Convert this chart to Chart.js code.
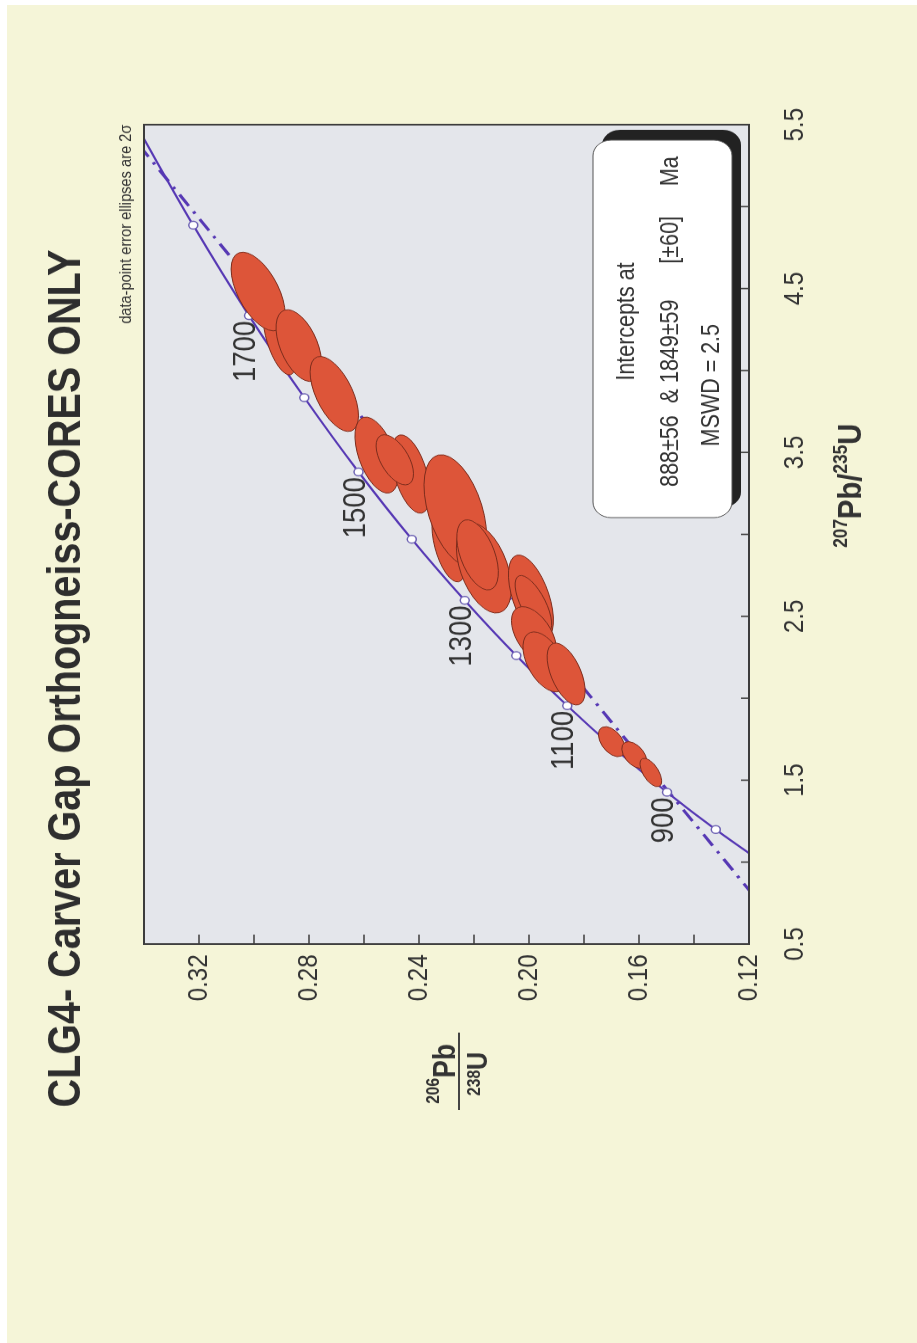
<!DOCTYPE html>
<html>
<head>
<meta charset="utf-8">
<title>CLG4 Concordia</title>
<script src="https://cdn.jsdelivr.net/npm/chart.js@4/dist/chart.umd.min.js"></script>
<style>
  html, body { margin: 0; padding: 0; background: #ffffff; }
  body { width: 917px; height: 1343px; overflow: hidden; position: relative; }
  #paper { position: absolute; left: 7px; top: 5px; right: 0; bottom: 0; background: #f5f5d8; }
  /* the figure is laid out landscape and turned a quarter turn counter-clockwise */
  #wrap { position: absolute; left: 0; top: 0; width: 1562px; height: 917px;
          transform-origin: 0 0; transform: translate(0px, 1343px) rotate(-90deg) scaleX(0.85979); }
  canvas { display: block; }
</style>
</head>
<body>
<div id="paper"></div>
<div id="wrap"><canvas id="chart" width="1562" height="917"></canvas></div>
<script>
// Concordia curve (age in Ma, 207Pb/235U, 206Pb/238U)
const concordiaAges = [700, 800, 900, 1000, 1100, 1200, 1300, 1400, 1500, 1600, 1700, 1800, 1900];
const concordiaX = [0.9925, 1.1987, 1.4263, 1.6774, 1.9545, 2.2603, 2.5977, 2.9701, 3.3810, 3.8344, 4.3348, 4.8868, 5.4962];
const concordiaY = [0.1147, 0.1321, 0.1498, 0.1678, 0.1861, 0.2046, 0.2234, 0.2426, 0.2620, 0.2817, 0.3018, 0.3221, 0.3428];
const markerAges = [800, 900, 1000, 1100, 1200, 1300, 1400, 1500, 1600, 1700, 1800];
const labelAges = [900, 1100, 1300, 1500, 1700];

// Discordia through the 888 Ma and 1849 Ma intercepts, across the plot
const discordiaX = [0.5, 5.5];
const discordiaY = [0.1039, 0.3479];

// Analyses: centre, 2-sigma errors and error correlation
const ellX   = [4.187, 4.482, 4.152, 3.857, 3.484, 3.368, 3.455, 2.936, 3.145, 2.795, 2.875, 2.615, 2.573, 2.386, 2.222, 2.148, 1.735, 1.654, 1.547];
const ellY   = [0.2907, 0.2985, 0.2837, 0.2708, 0.2554, 0.2430, 0.2488, 0.2291, 0.2268, 0.2164, 0.2187, 0.1993, 0.1984, 0.1982, 0.1942, 0.1865, 0.1699, 0.1617, 0.1557];
const ellSX  = [0.214, 0.240, 0.219, 0.229, 0.232, 0.239, 0.153, 0.226, 0.341, 0.275, 0.214, 0.259, 0.176, 0.173, 0.183, 0.189, 0.0916, 0.0812, 0.0867];
const ellSY  = [0.00593, 0.00982, 0.00829, 0.0088, 0.00789, 0.00698, 0.0068, 0.00618, 0.01138, 0.0100, 0.00756, 0.00818, 0.00665, 0.00818, 0.0080, 0.00691, 0.00484, 0.00455, 0.00393];
const ellRho = [0.60, 0.57, 0.50, 0.58, 0.50, 0.50, 0.56, 0.50, 0.45, 0.45, 0.50, 0.54, 0.68, 0.50, 0.50, 0.55, 0.47, 0.48, 0.60];

// Axis ticks
const xTickMin = 0.5, xTickMax = 5.5, xStep = 0.5;
const yTickMin = 0.12, yTickMax = 0.34, yStep = 0.02;

const titleText = 'CLG4- Carver Gap Orthogneiss-CORES ONLY';
const noteText = 'data-point error ellipses are 2\u03c3';
const boxLines = ['Intercepts at', '888\u00b156  & 1849\u00b159      [\u00b160]     Ma', 'MSWD = 2.5'];

const FONT = "'Liberation Sans', Arial, Helvetica, sans-serif";
const LINE_COLOR = '#5638b4';
const INK = '#333333';

const concordiaPts = concordiaAges.map((a, i) => ({ x: concordiaX[i], y: concordiaY[i] }));
const markerPts = markerAges.map(a => { const i = concordiaAges.indexOf(a); return { x: concordiaX[i], y: concordiaY[i] }; });
const discordiaPts = discordiaX.map((x, i) => ({ x, y: discordiaY[i] }));

function drawRich(ctx, parts, x, y, align) {
  let total = 0;
  parts.forEach(p => { ctx.font = p.font; total += ctx.measureText(p.t).width; });
  let cx = align === 'center' ? x - total / 2 : x;
  ctx.textAlign = 'left';
  ctx.textBaseline = 'alphabetic';
  parts.forEach(p => {
    ctx.font = p.font;
    ctx.fillText(p.t, cx, y + (p.dy || 0));
    cx += ctx.measureText(p.t).width;
  });
}

const plotBackground = {
  id: 'plotBackground',
  beforeDraw(chart) {
    const { ctx, chartArea: a } = chart;
    ctx.save();
    ctx.fillStyle = '#e4e6eb';
    ctx.fillRect(a.left, a.top, a.right - a.left, a.bottom - a.top);
    ctx.restore();
  }
};

const errorEllipses = {
  id: 'errorEllipses',
  afterDatasetsDraw(chart) {
    const { ctx, chartArea: a, scales: { x: xs, y: ys } } = chart;
    ctx.save();
    ctx.beginPath();
    ctx.rect(a.left, a.top, a.right - a.left, a.bottom - a.top);
    ctx.clip();
    ellX.forEach((cx, i) => {
      const px = xs.getPixelForValue(cx), py = ys.getPixelForValue(ellY[i]);
      const kx = xs.getPixelForValue(cx + 1) - px;
      const ky = ys.getPixelForValue(ellY[i] + 1) - py;
      const sxp = ellSX[i] * kx, syp = ellSY[i] * ky;
      const A = sxp * sxp, C = syp * syp, B = ellRho[i] * sxp * syp;
      const mid = (A + C) / 2, d = Math.sqrt((A - C) * (A - C) / 4 + B * B);
      const r1 = Math.sqrt(mid + d), r2 = Math.sqrt(Math.max(mid - d, 0.01));
      const th = 0.5 * Math.atan2(2 * B, A - C);
      ctx.beginPath();
      ctx.ellipse(px, py, r1, r2, th, 0, Math.PI * 2);
      ctx.fillStyle = '#dd5539';
      ctx.fill();
      ctx.lineWidth = 1;
      ctx.strokeStyle = '#7c2c1c';
      ctx.stroke();
    });
    ctx.restore();
  }
};

const decorations = {
  id: 'decorations',
  afterDraw(chart) {
    const { ctx, chartArea: a, scales: { x: xs, y: ys } } = chart;
    ctx.save();

    // frame
    ctx.strokeStyle = '#3c3c3c';
    ctx.lineWidth = 2;
    ctx.strokeRect(a.left, a.top, a.right - a.left, a.bottom - a.top);

    // inward ticks on the two axes
    ctx.lineWidth = 1.6;
    ctx.beginPath();
    xs.ticks.forEach(t => {
      const p = xs.getPixelForValue(t.value);
      if (p <= a.left + 1 || p >= a.right - 1) return;
      ctx.moveTo(p, a.bottom); ctx.lineTo(p, a.bottom - 8);
    });
    ys.ticks.forEach(t => {
      const p = ys.getPixelForValue(t.value);
      if (p <= a.top + 1 || p >= a.bottom - 1) return;
      ctx.moveTo(a.left, p); ctx.lineTo(a.left + 11, p);
    });
    ctx.stroke();

    // age labels on the concordia
    ctx.fillStyle = INK;
    ctx.font = '32px ' + FONT;
    ctx.textAlign = 'right';
    ctx.textBaseline = 'alphabetic';
    labelAges.forEach(age => {
      const i = concordiaAges.indexOf(age);
      const px = xs.getPixelForValue(concordiaX[i]);
      const py = ys.getPixelForValue(concordiaY[i]);
      ctx.fillText(String(age), px - 6, py + 6);
    });

    // title and note
    ctx.textAlign = 'left';
    ctx.font = 'bold 46px ' + FONT;
    ctx.fillStyle = '#2e2e2e';
    ctx.fillText(titleText, 274, 80);
    ctx.font = '17px ' + FONT;
    ctx.textAlign = 'right';
    ctx.fillStyle = INK;
    ctx.fillText(noteText, a.right, 131);

    // intercept box with drop shadow
    const bx = 960, by = 593, bw = 439, bh = 139, r = 18;
    ctx.fillStyle = '#222222';
    ctx.beginPath(); ctx.roundRect(bx + 12, by + 9, bw, bh, r); ctx.fill();
    ctx.fillStyle = '#ffffff';
    ctx.strokeStyle = '#555555';
    ctx.lineWidth = 1;
    ctx.beginPath(); ctx.roundRect(bx, by, bw, bh, r); ctx.fill(); ctx.stroke();
    ctx.fillStyle = INK;
    ctx.font = '25px ' + FONT;
    ctx.textAlign = 'center';
    ctx.fillText(boxLines[0], 1188, 634);
    ctx.fillText(boxLines[1], 1188, 678);
    ctx.fillText(boxLines[2], 1114, 719);

    // axis titles
    ctx.fillStyle = INK;
    drawRich(ctx, [
      { t: '207', font: 'bold 20px ' + FONT, dy: -14 },
      { t: 'Pb/', font: 'bold 34px ' + FONT },
      { t: '235', font: 'bold 20px ' + FONT, dy: -14 },
      { t: 'U', font: 'bold 34px ' + FONT }
    ], 925, 861, 'left');

    drawRich(ctx, [
      { t: '206', font: 'bold 18px ' + FONT, dy: -16 },
      { t: 'Pb', font: 'bold 31px ' + FONT }
    ], 313, 455, 'center');
    drawRich(ctx, [
      { t: '238', font: 'bold 18px ' + FONT, dy: -7 },
      { t: 'U', font: 'bold 29px ' + FONT }
    ], 313, 487, 'center');
    ctx.strokeStyle = '#444444';
    ctx.lineWidth = 2;
    ctx.beginPath(); ctx.moveTo(271, 459); ctx.lineTo(361, 459); ctx.stroke();

    ctx.restore();
  }
};

new Chart(document.getElementById('chart'), {
  type: 'scatter',
  data: {
    datasets: [
      { label: 'Age markers', data: markerPts, showLine: false, pointRadius: 4.5,
        pointBackgroundColor: '#ffffff', pointBorderColor: '#6d62b3', pointBorderWidth: 1.5, order: 1 },
      { label: 'Concordia', data: concordiaPts, showLine: true, pointRadius: 0,
        borderColor: LINE_COLOR, borderWidth: 2.2, cubicInterpolationMode: 'monotone', order: 2 },
      { label: 'Discordia', data: discordiaPts, showLine: true, pointRadius: 0,
        borderColor: LINE_COLOR, borderWidth: 3.2, borderDash: [16, 8, 3, 8], order: 3 }
    ]
  },
  options: {
    responsive: false,
    animation: false,
    devicePixelRatio: 1,
    layout: { padding: { left: 0, right: 145, top: 144, bottom: 0 } },
    plugins: { legend: { display: false }, tooltip: { enabled: false } },
    scales: {
      x: {
        type: 'linear', position: 'bottom', min: xTickMin, max: xTickMax,
        grid: { display: false, drawTicks: false }, border: { display: false },
        ticks: { stepSize: xStep, autoSkip: false, maxRotation: 0, padding: 29, color: INK,
                 font: { family: FONT, size: 28 },
                 callback: (v, i) => (i % 2 === 0 ? Number(v).toFixed(1) : '') },
        afterFit: s => { s.height = 168; }
      },
      y: {
        type: 'linear', position: 'left', min: yTickMin, max: yTickMax,
        grid: { display: false, drawTicks: false }, border: { display: false },
        ticks: { stepSize: yStep, autoSkip: false, padding: 12, color: INK,
                 font: { family: FONT, size: 28 },
                 callback: (v, i) => (i % 2 === 0 ? Number(v).toFixed(2) : '') },
        afterFit: s => { s.width = 464; }
      }
    }
  },
  plugins: [plotBackground, errorEllipses, decorations]
});
</script>
</body>
</html>
